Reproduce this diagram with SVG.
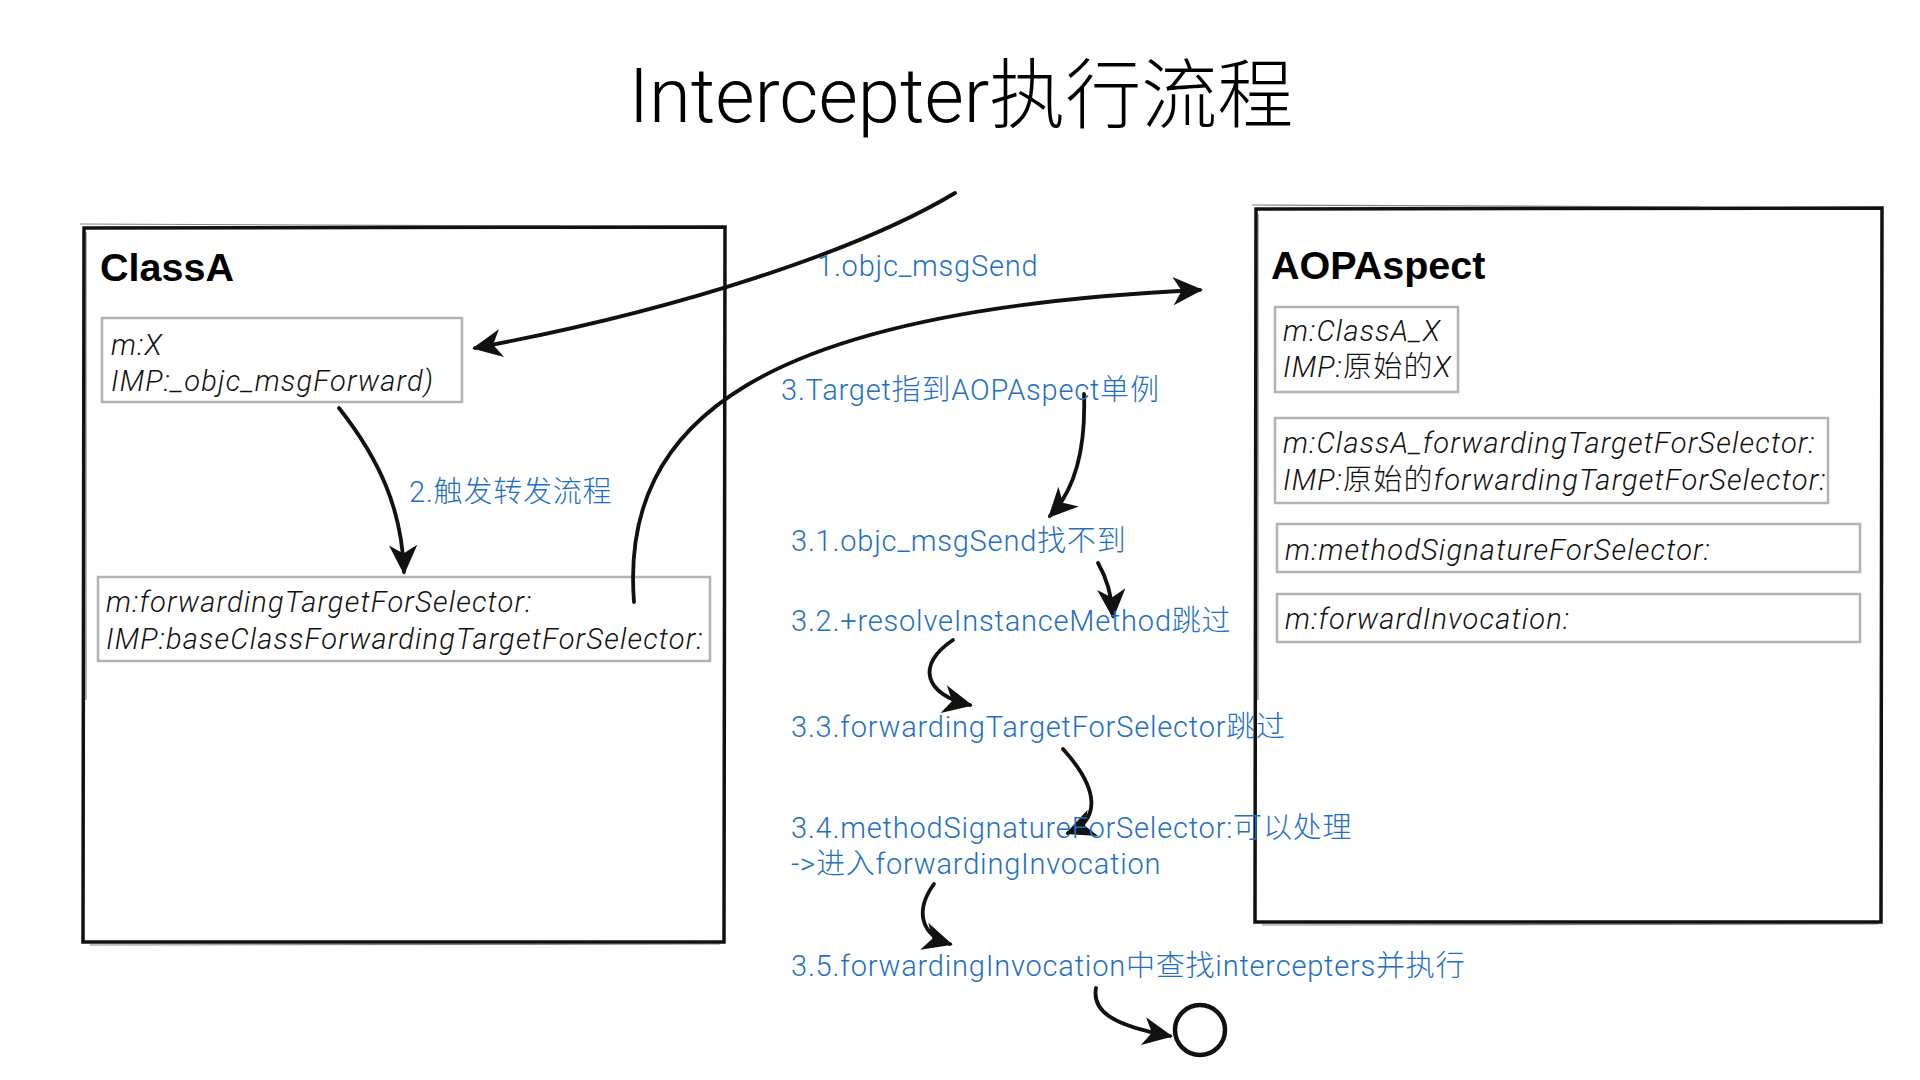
<svg xmlns="http://www.w3.org/2000/svg" width="1920" height="1080" viewBox="0 0 1920 1080">
<defs>
<style>
.title{font-family:Roboto,"Noto Sans CJK SC",sans-serif;font-weight:300;font-size:76px;fill:#000}
.cls{font-family:"Liberation Sans",Arial,sans-serif;font-weight:700;font-size:39.5px;fill:#000}
.it{font-family:Roboto,"Noto Sans CJK SC",sans-serif;font-weight:300;font-style:italic;font-size:29px;letter-spacing:1.2px;fill:#111}
.cjk{font-style:normal}
.lbl{font-family:Roboto,"Noto Sans CJK SC",sans-serif;font-weight:300;font-size:29px;letter-spacing:0.8px;fill:#1f6fc5}
.frame{fill:none;stroke:#111;stroke-width:3.5;stroke-linejoin:miter}
.rough{fill:none;stroke:#333;stroke-width:1.2;opacity:0.6}
.inner{fill:none;stroke:#b3b3b3;stroke-width:2.5}
.conn{fill:none;stroke:#111;stroke-width:3.8;stroke-linecap:round}
</style>
<marker id="ah" viewBox="0 0 24 24" refX="20" refY="12" markerWidth="34" markerHeight="34" markerUnits="userSpaceOnUse" orient="auto">
<path d="M1,2 L22,12 L1,22 L7,12 Z" fill="#111"/>
</marker>
</defs>
<rect width="1920" height="1080" fill="#fff"/>
<text class="title" x="961" y="122" text-anchor="middle">Intercepter执行流程</text>

<g id="classA">
<path class="frame" d="M84,228 L725,227 L724,942 L83,942 Z"/>
<path class="rough" d="M80,224 L560,226 M86,232 L86,700 M90,945 L720,944"/>
<text class="cls" x="100" y="281">ClassA</text>
<g id="classA-mX">
<rect class="inner" x="102" y="318" width="360" height="84"/>
<text class="it" x="111" y="355">m:X</text>
<text class="it" x="111" y="391">IMP:_objc_msgForward)</text>
</g>
<g id="classA-fwd">
<rect class="inner" x="98" y="577" width="612" height="84"/>
<text class="it" x="106" y="612">m:forwardingTargetForSelector:</text>
<text class="it" x="106" y="649">IMP:baseClassForwardingTargetForSelector:</text>
</g>
</g>

<g id="aopAspect">
<path class="frame" d="M1256,209 L1882,208 L1881,922 L1255,922 Z"/>
<path class="rough" d="M1252,205 L1700,207 M1258,214 L1258,700 M1262,925 L1878,924"/>
<text class="cls" x="1271" y="279">AOPAspect</text>
<g id="aop-x">
<rect class="inner" x="1275" y="307" width="183" height="85"/>
<text class="it" x="1283" y="341">m:ClassA_X</text>
<text class="it" x="1283" y="377">IMP:<tspan class="cjk">原始的</tspan>X</text>
</g>
<g id="aop-fwd">
<rect class="inner" x="1275" y="418" width="553" height="85"/>
<text class="it" x="1283" y="453">m:ClassA_forwardingTargetForSelector:</text>
<text class="it" x="1283" y="490">IMP:<tspan class="cjk">原始的</tspan>forwardingTargetForSelector:</text>
</g>
<g id="aop-msig">
<rect class="inner" x="1277" y="524" width="583" height="48"/>
<text class="it" x="1285" y="560">m:methodSignatureForSelector:</text>
</g>
<g id="aop-finv">
<rect class="inner" x="1277" y="594" width="583" height="48"/>
<text class="it" x="1285" y="629">m:forwardInvocation:</text>
</g>
</g>

<g id="connectors">
<path id="c1" class="conn" d="M955,193 C860,250 680,310 475,348" marker-end="url(#ah)"/>
<path id="c2" class="conn" d="M339,408 C380,460 402,510 404,572" marker-end="url(#ah)"/>
<path id="c3" class="conn" d="M634,602 C620,420 760,310 1200,290" marker-end="url(#ah)"/>
<path id="c31" class="conn" d="M1084,394 C1086,450 1075,490 1050,516" marker-end="url(#ah)"/>
<path id="c32" class="conn" d="M1098,563 C1108,580 1112,600 1113,616" marker-end="url(#ah)"/>
<path id="c33" class="conn" d="M953,640 C915,665 925,695 970,705" marker-end="url(#ah)"/>
<path id="c34" class="conn" d="M1063,749 C1100,790 1100,820 1068,833" marker-end="url(#ah)"/>
<path id="c35" class="conn" d="M934,884 C915,910 920,935 950,944" marker-end="url(#ah)"/>
<path id="c36" class="conn" d="M1096,988 C1092,1010 1110,1025 1170,1036" marker-end="url(#ah)"/>
</g>

<g id="end">
<circle cx="1200" cy="1030" r="25" fill="none" stroke="#111" stroke-width="4.5"/>
</g>

<g id="labels">
<text class="lbl" x="817" y="276">1.objc_msgSend</text>
<text class="lbl" x="409" y="502">2.触发转发流程</text>
<text class="lbl" x="781" y="400">3.Target指到AOPAspect单例</text>
<text class="lbl" x="791" y="551">3.1.objc_msgSend找不到</text>
<text class="lbl" x="791" y="631">3.2.+resolveInstanceMethod跳过</text>
<text class="lbl" x="791" y="737">3.3.forwardingTargetForSelector跳过</text>
<text class="lbl" x="791" y="838">3.4.methodSignatureForSelector:可以处理</text>
<text class="lbl" x="791" y="874">-&gt;进入forwardingInvocation</text>
<text class="lbl" x="791" y="976">3.5.forwardingInvocation中查找intercepters并执行</text>
</g>
</svg>
